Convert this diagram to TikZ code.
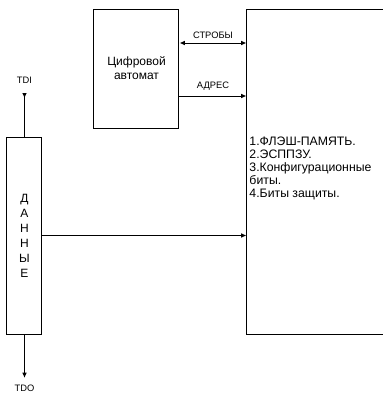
\documentclass[tikz,border=0pt]{standalone}
\usepackage{fontspec}
\setmainfont{Liberation Sans}
\usetikzlibrary{arrows.meta}

\begin{document}
\begin{tikzpicture}[x=0.75pt,y=-0.75pt,line width=0.75pt,>={Latex[length=4pt,width=3.5pt]},
  box/.style={draw,inner sep=0pt,align=center},
  lbl/.style={inner sep=0pt,font=\fontsize{7}{8}\selectfont}]
  \useasboundingbox (0,0) rectangle (383,394);
  \node[box,minimum width=85*0.75pt,minimum height=119*0.75pt,font=\fontsize{9}{10.5}\selectfont](auto) at (136.5,68.5) {Цифровой\\автомат};
  \node[inner sep=0pt,minimum width=136*0.75pt,minimum height=324*0.75pt](mem) at (315,172) {};
  \draw(mem.north east)--(mem.north west)--(mem.south west)--(mem.south east);
  \node[inner sep=0pt,anchor=west,align=left,font=\fontsize{9.2}{9.75}\selectfont](list) at (249,168)
    {1.ФЛЭШ-ПАМЯТЬ.\\2.ЭСППЗУ.\\3.Конфигурационные\\биты.\\4.Биты защиты.};
  \node[box,minimum width=35*0.75pt,minimum height=197*0.75pt,font=\fontsize{9}{11.25}\selectfont](data) at (24.5,235.5)
    {Д\\А\\Н\\Н\\Ы\\Е};
  \coordinate (strobe) at (213,43);
  \coordinate (addr) at (213,96);
  \node[lbl](lstrobe) at (213,35) {СТРОБЫ};
  \node[lbl](laddr) at (213,86) {АДРЕС};
  \draw[<->](auto.east |- strobe)--(mem.west |- strobe);
  \draw[->](auto.east |- addr)--(mem.west |- addr);
  \draw[->](data.east)--(mem.west |- data.east);
  \node[lbl](ltdi) at (24.5,80) {TDI};
  \coordinate (tdi) at (24.5,93);
  \draw[{Latex[length=4pt,width=3.5pt,reversed]}-](tdi)--(data.north);
  \coordinate (tdo) at (24.5,378);
  \draw[->](data.south)--(tdo);
  \node[lbl](ltdo) at (24.5,388) {TDO};
\end{tikzpicture}
\end{document}
